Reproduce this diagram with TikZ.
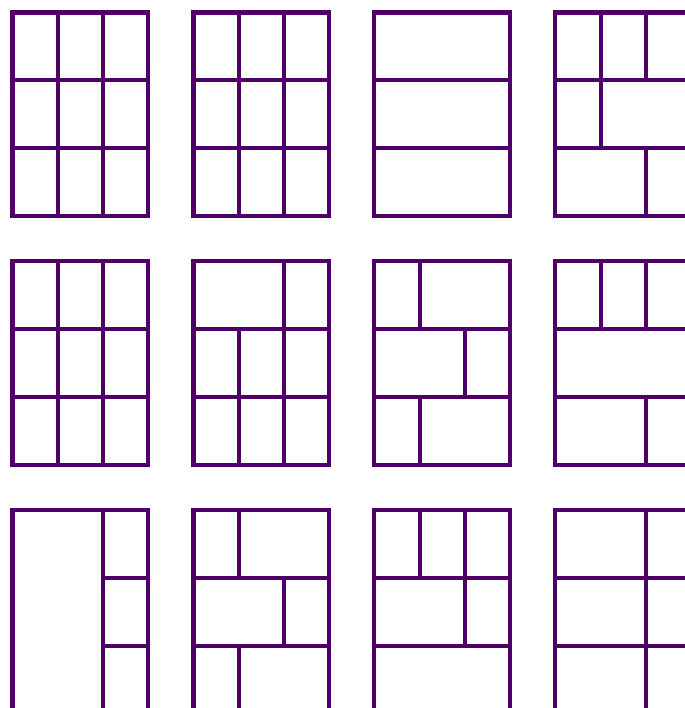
\documentclass[tikz,border=0pt]{standalone}
\usepackage{xcolor}
\usepackage{tikz}
\definecolor{plum}{HTML}{4F0066}

\begin{document}
\begin{tikzpicture}[x=1cm,y=-1cm,
  wall/.style={draw=plum,line width=2.6pt,line join=miter}]
\useasboundingbox (0,0) rectangle (15.14,15.65);
\clip (0,0) rectangle (15.14,15.65);
% panel corners, 3 wide and 4.5 high, gap of 1
\coordinate (p11) at (0.276,0.276);  \coordinate (p12) at (4.276,0.276);
\coordinate (p13) at (8.276,0.276);  \coordinate (p14) at (12.276,0.276);
\coordinate (p21) at (0.276,5.776);  \coordinate (p22) at (4.276,5.776);
\coordinate (p23) at (8.276,5.776);  \coordinate (p24) at (12.276,5.776);
\coordinate (p31) at (0.276,11.276); \coordinate (p32) at (4.276,11.276);
\coordinate (p33) at (8.276,11.276); \coordinate (p34) at (12.276,11.276);
% top row
\draw[wall,shift={(p11)}] (0,0) rectangle (3,4.5) (0,1.5) -- (3,1.5) (0,3) -- (3,3)
  (1,0) -- (1,4.5) (2,0) -- (2,4.5);
\draw[wall,shift={(p12)}] (0,0) rectangle (3,4.5) (0,1.5) -- (3,1.5) (0,3) -- (3,3)
  (1,0) -- (1,4.5) (2,0) -- (2,4.5);
\draw[wall,shift={(p13)}] (0,0) rectangle (3,4.5) (0,1.5) -- (3,1.5) (0,3) -- (3,3);
\draw[wall,shift={(p14)}] (0,0) rectangle (3,4.5) (0,1.5) -- (3,1.5) (0,3) -- (3,3)
  (1,0) -- (1,3) (2,0) -- (2,1.5) (2,3) -- (2,4.5);
% middle row
\draw[wall,shift={(p21)}] (0,0) rectangle (3,4.5) (0,1.5) -- (3,1.5) (0,3) -- (3,3)
  (1,0) -- (1,4.5) (2,0) -- (2,4.5);
\draw[wall,shift={(p22)}] (0,0) rectangle (3,4.5) (0,1.5) -- (3,1.5) (0,3) -- (3,3)
  (2,0) -- (2,4.5) (1,1.5) -- (1,4.5);
\draw[wall,shift={(p23)}] (0,0) rectangle (3,4.5) (0,1.5) -- (3,1.5) (0,3) -- (3,3)
  (1,0) -- (1,1.5) (2,1.5) -- (2,3) (1,3) -- (1,4.5);
\draw[wall,shift={(p24)}] (0,0) rectangle (3,4.5) (0,1.5) -- (3,1.5) (0,3) -- (3,3)
  (1,0) -- (1,1.5) (2,0) -- (2,1.5) (2,3) -- (2,4.5);
% bottom row
\draw[wall,shift={(p31)}] (0,0) rectangle (3,4.5) (2,0) -- (2,4.5)
  (2,1.5) -- (3,1.5) (2,3) -- (3,3);
\draw[wall,shift={(p32)}] (0,0) rectangle (3,4.5) (0,1.5) -- (3,1.5) (0,3) -- (3,3)
  (1,0) -- (1,1.5) (2,1.5) -- (2,3) (1,3) -- (1,4.5);
\draw[wall,shift={(p33)}] (0,0) rectangle (3,4.5) (0,1.5) -- (3,1.5) (0,3) -- (3,3)
  (1,0) -- (1,1.5) (2,0) -- (2,3);
\draw[wall,shift={(p34)}] (0,0) rectangle (3,4.5) (0,1.5) -- (3,1.5) (0,3) -- (3,3)
  (2,0) -- (2,4.5);
\end{tikzpicture}
\end{document}
